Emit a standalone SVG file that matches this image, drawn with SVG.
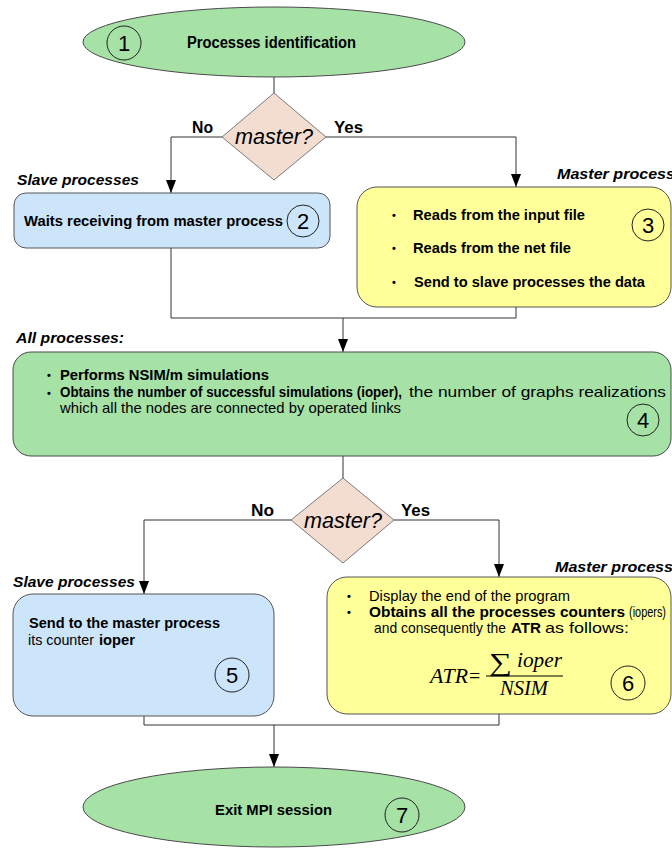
<svg xmlns="http://www.w3.org/2000/svg" width="672" height="848" viewBox="0 0 672 848">
<style>
text{font-family:"Liberation Sans Narrow","Liberation Sans",Arial,sans-serif;fill:#000}
.b{font-weight:bold;font-size:15px}
.n{font-size:15px}
.bi{font-weight:bold;font-style:italic;font-size:15px}
.lbl{font-weight:bold;font-size:16px}
.q{font-style:italic;font-size:22px;text-anchor:middle}
.num{font-size:22px;text-anchor:middle}
.dot{font-size:11px;font-weight:bold}
.ser{font-family:"Liberation Serif","Times New Roman",serif;font-style:italic;font-size:20px}
.green{fill:#a6e1a6;stroke:#4a4a4a;stroke-width:1}
.blue{fill:#cce5fb;stroke:#555;stroke-width:1}
.yellow{fill:#ffff99;stroke:#555;stroke-width:1}
.dia{fill:#f3ddd1;stroke:#7a7a7a;stroke-width:1}
.circ{fill:none;stroke:#222;stroke-width:1}
.con{fill:none;stroke:#333;stroke-width:1}
</style>
<defs>
<marker id="arr" viewBox="0 0 13 10" refX="13" refY="5" markerWidth="13" markerHeight="10" markerUnits="userSpaceOnUse" orient="auto">
<path d="M0,0 L13,5 L0,10 z" fill="#000"/>
</marker>
</defs>
<rect width="672" height="848" fill="#fff"/>

<g id="connectors">
<line class="con" x1="274" y1="77" x2="274" y2="93"/>
<polyline class="con" points="222,137 171,137 171,193" marker-end="url(#arr)"/>
<polyline class="con" points="326,137 516,137 516,187" marker-end="url(#arr)"/>
<polyline class="con" points="171,248 171,318 516,318 516,307"/>
<line class="con" x1="343" y1="318" x2="343" y2="352" marker-end="url(#arr)"/>
<line class="con" x1="343" y1="456" x2="343" y2="478"/>
<polyline class="con" points="291,520 144,520 144,594" marker-end="url(#arr)"/>
<polyline class="con" points="394,520 499,520 499,577" marker-end="url(#arr)"/>
<polyline class="con" points="144,716 144,725 499,725 499,714"/>
<line class="con" x1="274" y1="725" x2="274" y2="767" marker-end="url(#arr)"/>
<text class="lbl" x="192" y="133" textLength="21" lengthAdjust="spacingAndGlyphs">No</text>
<text class="lbl" x="334" y="133" textLength="29" lengthAdjust="spacingAndGlyphs">Yes</text>
<text class="lbl" x="251" y="516" textLength="23" lengthAdjust="spacingAndGlyphs">No</text>
<text class="lbl" x="401" y="516" textLength="29" lengthAdjust="spacingAndGlyphs">Yes</text>
</g>

<g id="n1">
<ellipse class="green" cx="274" cy="42" rx="191" ry="35"/>
<circle class="circ" cx="124" cy="43" r="17"/>
<text class="num" x="124" y="51">1</text>
<text class="b" x="187" y="48" style="font-size:16px" textLength="169" lengthAdjust="spacingAndGlyphs">Processes identification</text>
</g>

<g id="d1">
<polygon class="dia" points="274,93 326,137 274,180 222,137"/>
<text class="q" x="274" y="144" textLength="78" lengthAdjust="spacingAndGlyphs">master?</text>
</g>

<g id="n2">
<text class="bi" x="17" y="185" textLength="122" lengthAdjust="spacingAndGlyphs">Slave processes</text>
<rect class="blue" x="14" y="193" width="316" height="55" rx="12"/>
<text class="b" x="24" y="226" textLength="259" lengthAdjust="spacingAndGlyphs">Waits receiving from master process</text>
<circle class="circ" cx="303" cy="221" r="16"/>
<text class="num" x="303" y="229">2</text>
</g>

<g id="n3">
<text class="bi" x="557" y="179" textLength="118" lengthAdjust="spacingAndGlyphs">Master process</text>
<rect class="yellow" x="357" y="187" width="314" height="120" rx="20"/>
<text class="dot" x="392" y="219">•</text>
<text class="b" x="413" y="220" textLength="172" lengthAdjust="spacingAndGlyphs">Reads from the input file</text>
<text class="dot" x="392" y="252">•</text>
<text class="b" x="413" y="253" textLength="158" lengthAdjust="spacingAndGlyphs">Reads from the net file</text>
<text class="dot" x="392" y="286">•</text>
<text class="b" x="414" y="287" textLength="231" lengthAdjust="spacingAndGlyphs">Send to slave processes the data</text>
<circle class="circ" cx="648" cy="225" r="16"/>
<text class="num" x="648" y="233">3</text>
</g>

<g id="n4">
<text class="bi" x="16" y="343" textLength="108" lengthAdjust="spacingAndGlyphs">All processes:</text>
<rect class="green" x="13" y="352" width="658" height="104" rx="18"/>
<text class="dot" x="47" y="379">•</text>
<text class="b" x="60" y="380" textLength="209" lengthAdjust="spacingAndGlyphs">Performs NSIM/m simulations</text>
<text class="dot" x="47" y="397">•</text>
<text class="b" x="60" y="397" textLength="342" lengthAdjust="spacingAndGlyphs">Obtains  the number of successful simulations (ioper),</text>
<text class="n" x="409" y="397" textLength="257" lengthAdjust="spacingAndGlyphs">the number of graphs realizations</text>
<text class="n" x="60" y="413" textLength="341" lengthAdjust="spacingAndGlyphs">which all the nodes are connected by operated links</text>
<circle class="circ" cx="643" cy="420" r="16"/>
<text class="num" x="643" y="428">4</text>
</g>

<g id="d2">
<polygon class="dia" points="343,478 394,520 343,563 291,520"/>
<text class="q" x="343" y="528" textLength="78" lengthAdjust="spacingAndGlyphs">master?</text>
</g>

<g id="n5">
<text class="bi" x="13" y="587" textLength="122" lengthAdjust="spacingAndGlyphs">Slave processes</text>
<rect class="blue" x="13" y="594" width="261" height="122" rx="20"/>
<text class="b" x="29" y="628" textLength="191" lengthAdjust="spacingAndGlyphs">Send to the master process</text>
<text class="n" x="28" y="645" textLength="66" lengthAdjust="spacingAndGlyphs">its counter</text>
<text class="b" x="99" y="645" textLength="36" lengthAdjust="spacingAndGlyphs">ioper</text>
<circle class="circ" cx="232" cy="675" r="17"/>
<text class="num" x="232" y="683">5</text>
</g>

<g id="n6">
<text class="bi" x="555" y="572" textLength="118" lengthAdjust="spacingAndGlyphs">Master process</text>
<rect class="yellow" x="327" y="577" width="344" height="137" rx="20"/>
<text class="dot" x="347" y="600">•</text>
<text class="n" x="369" y="601" textLength="201" lengthAdjust="spacingAndGlyphs">Display the end of the program</text>
<text class="dot" x="347" y="616">•</text>
<text class="b" x="369" y="617" textLength="256" lengthAdjust="spacingAndGlyphs">Obtains all the processes counters</text>
<text class="n" x="629" y="617" textLength="37" lengthAdjust="spacingAndGlyphs">(iopers)</text>
<text class="n" x="374" y="633" textLength="132" lengthAdjust="spacingAndGlyphs">and consequently the</text>
<text class="b" x="511" y="633" textLength="30" lengthAdjust="spacingAndGlyphs">ATR</text>
<text class="n" x="545" y="633" textLength="84" lengthAdjust="spacingAndGlyphs">as follows:</text>
<text class="ser" x="430" y="683" textLength="38" lengthAdjust="spacingAndGlyphs">ATR</text>
<text class="ser" x="469" y="683" style="font-style:normal">=</text>
<text class="ser" x="489" y="671" style="font-style:normal;font-size:26px" textLength="23" lengthAdjust="spacingAndGlyphs">∑</text>
<text class="ser" x="517" y="667" textLength="45" lengthAdjust="spacingAndGlyphs">ioper</text>
<line x1="486" y1="676" x2="563" y2="676" stroke="#000" stroke-width="1"/>
<text class="ser" x="500" y="695" textLength="48" lengthAdjust="spacingAndGlyphs">NSIM</text>
<circle class="circ" cx="628" cy="683" r="17"/>
<text class="num" x="628" y="691">6</text>
</g>

<g id="n7">
<ellipse class="green" cx="274" cy="807" rx="191" ry="40"/>
<text class="b" x="215" y="815" textLength="117" lengthAdjust="spacingAndGlyphs">Exit MPI session</text>
<circle class="circ" cx="402" cy="815" r="17"/>
<text class="num" x="402" y="823">7</text>
</g>
</svg>
